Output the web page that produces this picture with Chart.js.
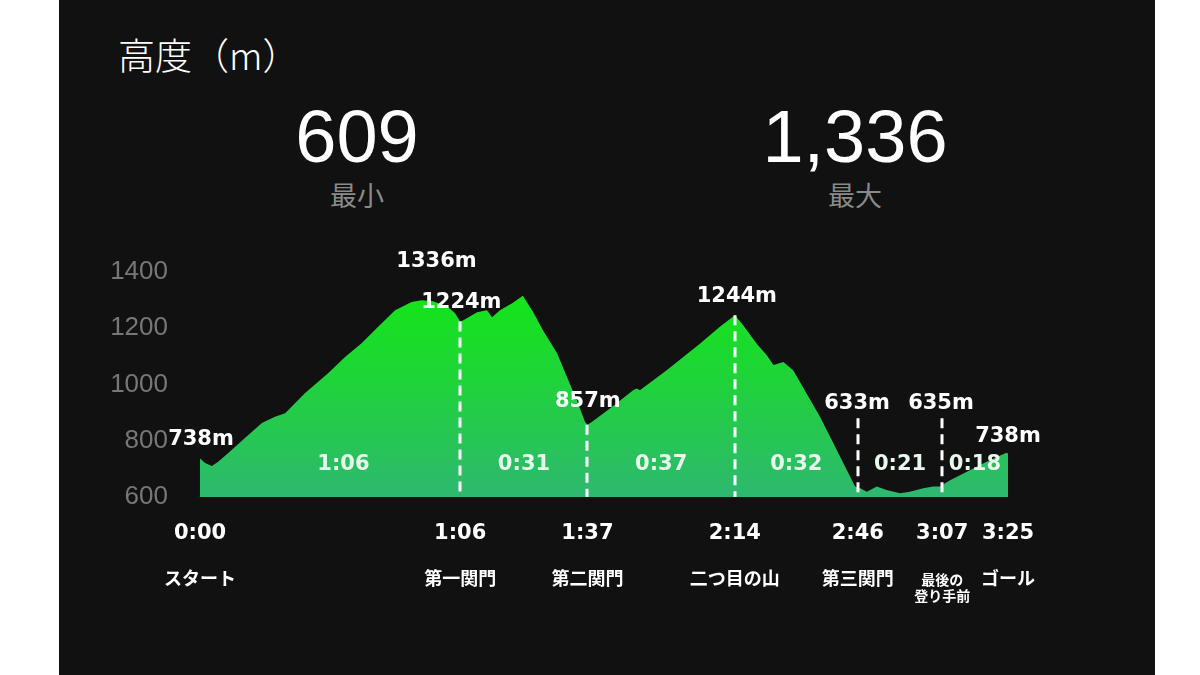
<!DOCTYPE html>
<html><head><meta charset="utf-8">
<script src="https://cdn.jsdelivr.net/npm/chart.js@4/dist/chart.umd.min.js"></script>
<style>
html,body{margin:0;padding:0;background:#fff;width:1200px;height:675px;overflow:hidden;}
#panel{position:absolute;left:59px;top:0;width:1096px;height:675px;background:#111;}
.t{position:absolute;white-space:nowrap;line-height:1;}
#title{left:118px;top:27px;font:300 37px "Noto Sans CJK JP";color:#fff;}
.big{font:400 74px "Liberation Sans";color:#fff;top:94px;transform:translateX(-50%);}
.sub{font:400 27px "Noto Sans CJK JP";color:#8a8a8a;top:175px;transform:translateX(-50%);}
canvas{position:absolute;left:0;top:0;}
</style></head>
<body>
<div id="panel"></div>
<div class="t" id="title">高度（m）</div>
<div class="t big" id="v0" style="left:357px"></div>
<div class="t sub" id="l0" style="left:357px"></div>
<div class="t big" id="v1" style="left:855px"></div>
<div class="t sub" id="l1" style="left:855px"></div>
<canvas id="c" width="1200" height="675"></canvas>
<script>
// ---- data ----
const statValues = [609, 1336];
const statLabels = ['最小', '最大'];

const minutes = [0, 1.3, 3.0, 4.6, 7.1, 11.4, 15.7, 19.0, 21.6, 26.6, 32.5, 36.8, 41.0, 45.2, 49.5, 53.7, 56.2, 59.1, 62.9, 64.7, 66.0, 66.7, 70.3, 72.8, 74.1, 76.1, 79.2, 81.9, 84.5, 87.0, 90.6, 93.1, 95.6, 97.7, 98.3, 99.4, 104.0, 109.9, 110.8, 111.6, 118.4, 126.9, 131.9, 135.7, 137.8, 141.2, 143.8, 145.5, 148.0, 150.5, 153.9, 157.3, 160.7, 164.1, 166.2, 167.5, 169.2, 171.7, 174.2, 177.6, 180.1, 183.5, 186.0, 187.7, 190.3, 193.7, 197.9, 201.3, 204.6, 205];
const elevation = [737, 721, 710, 725, 756, 810, 863, 885, 898, 969, 1040, 1098, 1147, 1205, 1264, 1293, 1300, 1296, 1276, 1253, 1224, 1228, 1257, 1264, 1239, 1264, 1289, 1316, 1258, 1193, 1111, 1027, 944, 867, 857, 867, 915, 980, 986, 980, 1051, 1146, 1205, 1246, 1211, 1146, 1104, 1069, 1080, 1051, 968, 885, 791, 696, 637, 631, 619, 637, 625, 613, 619, 631, 637, 637, 660, 684, 714, 737, 757, 755];

const checkpointAt = [0, 66, 98.3, 135.7, 166.9, 188.3, 205];
const checkpointTimes = ['0:00', '1:06', '1:37', '2:14', '2:46', '3:07', '3:25'];
const checkpointNames = ['スタート', '第一関門', '第二関門', '二つ目の山', '第三関門', ['最後の', '登り手前'], 'ゴール'];
const segmentDurations = ['1:06', '0:31', '0:37', '0:32', '0:21', '0:18'];
const markerTop = [1224, 857, 1246, 880, 880];
const valueLabels = ['738m', '1336m', '1224m', '857m', '1244m', '633m', '635m', '738m'];
const yTicks = [600, 800, 1000, 1200, 1400];

// ---- layout (anchors in axis units) ----
const valueLabelAnchors = [[0.25, 785], [60, 1417], [66.3, 1271], [98.4, 921], [136.2, 1294], [166.7, 913], [188, 913], [205, 796]];
const segmentLabelAnchors = [36.4, 82.2, 117, 151.3, 177.6, 196.6];
const segmentLabelElev = 696;

statValues.forEach((v, i) => {
  document.getElementById('v' + i).textContent = v.toLocaleString('en-US');
  document.getElementById('l' + i).textContent = statLabels[i];
});

const overlay = {
  id: 'overlay',
  afterDatasetsDraw(chart) {
    const {ctx, chartArea, scales: {x, y}} = chart;
    ctx.save();
    // dashed checkpoint markers
    ctx.strokeStyle = '#ffffff';
    ctx.lineWidth = 3;
    ctx.setLineDash([10, 6]);
    markerTop.forEach((top, i) => {
      const px = Math.round(x.getPixelForValue(checkpointAt[i + 1]));
      ctx.beginPath();
      ctx.moveTo(px, y.getPixelForValue(top));
      ctx.lineTo(px, chartArea.bottom);
      ctx.stroke();
    });
    ctx.setLineDash([]);

    ctx.textAlign = 'center';
    ctx.textBaseline = 'alphabetic';
    // segment durations
    ctx.font = 'bold 21px "DejaVu Sans"';
    ctx.fillStyle = '#e9f8ec';
    segmentDurations.forEach((s, i) => {
      ctx.fillText(s, x.getPixelForValue(segmentLabelAnchors[i]), y.getPixelForValue(segmentLabelElev));
    });
    // value labels
    ctx.fillStyle = '#ffffff';
    valueLabels.forEach((s, i) => {
      const [mx, ey] = valueLabelAnchors[i];
      ctx.fillText(s, x.getPixelForValue(mx), y.getPixelForValue(ey));
    });
    // checkpoint times
    checkpointTimes.forEach((s, i) => {
      ctx.fillText(s, x.getPixelForValue(checkpointAt[i]), chartArea.bottom + 42);
    });
    // checkpoint names
    ctx.textBaseline = 'middle';
    checkpointNames.forEach((n, i) => {
      const px = x.getPixelForValue(checkpointAt[i]);
      if (Array.isArray(n)) {
        ctx.font = 'bold 14px "Noto Sans CJK JP"';
        ctx.fillText(n[0], px, chartArea.bottom + 83);
        ctx.fillText(n[1], px, chartArea.bottom + 99);
      } else {
        ctx.font = 'bold 18px "Noto Sans CJK JP"';
        ctx.fillText(n, px, chartArea.bottom + 81);
      }
    });
    ctx.restore();
  }
};

new Chart(document.getElementById('c'), {
  type: 'line',
  data: {
    datasets: [{
      data: minutes.map((m, i) => ({x: m, y: elevation[i]})),
      fill: 'start',
      borderWidth: 0,
      borderColor: 'rgba(0,0,0,0)',
      pointRadius: 0,
      tension: 0,
      backgroundColor: (c) => {
        const ch = c.chart, a = ch.chartArea;
        if (!a) return '#22d040';
        const g = ch.ctx.createLinearGradient(0, a.top, 0, a.bottom);
        g.addColorStop(0, '#10ea10');
        g.addColorStop(0.5, '#20d23c');
        g.addColorStop(1, '#2eb870');
        return g;
      }
    }]
  },
  options: {
    responsive: false,
    animation: false,
    devicePixelRatio: 1,
    layout: {padding: {top: 272, bottom: 178, left: 0, right: 192}},
    plugins: {legend: {display: false}, tooltip: {enabled: false}},
    scales: {
      x: {type: 'linear', min: 0, max: 205, display: false},
      y: {
        min: 600, max: 1400,
        afterBuildTicks: s => { s.ticks = yTicks.map(v => ({value: v})); },
        afterFit: s => { s.width = 200; },
        grid: {display: false, drawTicks: false},
        border: {display: false},
        ticks: {
          color: '#777777',
          font: {family: 'Liberation Sans', size: 26},
          padding: 32,
          callback: v => String(v)
        }
      }
    }
  },
  plugins: [overlay]
});
</script>
</body></html>
